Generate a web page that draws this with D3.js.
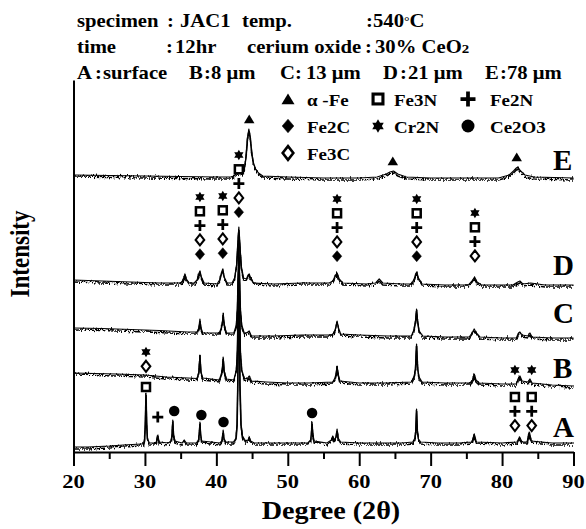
<!DOCTYPE html>
<html>
<head>
<meta charset="utf-8">
<script src="https://cdn.jsdelivr.net/npm/d3@7"></script>
<style>
  html, body { margin: 0; padding: 0; background: #fff; }
  svg { display: block; }
</style>
</head>
<body>
<svg id="chart" width="586" height="529"></svg>
<script>
// X-ray diffraction patterns of JAC1 at five depths (A = surface ... E = 78 µm)

const degreeTicks = [20, 30, 40, 50, 60, 70, 80, 90];
const minorTicks = [25, 35, 45, 55, 65, 75, 85];
const patternNames = ["A", "B", "C", "D", "E"];
// vertical stacking offset of each pattern, in intensity units
const patternOffsets = [8, 72, 119, 168, 275];

// [2θ (deg), intensity above the pattern's own baseline]
const patternA = [
  [20,-3],[22,-3],[25,-2],[27,-1],[29.5,0],
  [29.8,0],[29.95,5],[30.05,20],[30.15,51],[30.25,20],[30.35,6],[30.6,1],
  [31.3,1],[31.6,2],[31.8,9],[32.0,2],
  [33.3,1],[33.65,3],[33.8,10],[33.9,24],[34.0,10],[34.2,3],
  [35.2,1],[35.5,4],[35.8,1],
  [37.2,1],[37.5,4],[37.6,10],[37.7,22],[37.8,10],[37.95,3],
  [40.5,1],[40.75,3],[40.85,7],[40.95,14],[41.05,6],[41.3,2],
  [42.4,2],[42.75,6],[42.9,20],[43.0,60],[43.1,150],[43.15,206],[43.2,150],[43.3,60],[43.45,20],[43.65,8],[44.1,3],
  [44.45,4],[44.6,7],[44.8,3],[45.3,1],
  [47,1],[50,1],[52.8,1],[53.2,4],[53.3,10],[53.4,22],[53.5,10],[53.7,3],
  [55.5,1],[56.1,4],[56.3,8],[56.5,4],[56.75,7],[56.9,15],[57.05,6],[57.4,2],
  [60,1],[63,1],[66,1],[67.5,2],[67.8,6],[67.92,14],[68.03,35],[68.14,14],[68.3,5],[68.6,2],
  [71,1],[74,1],[75.8,2],[76.1,10],[76.4,2],
  [80,1],[82.1,2],[82.45,7],[82.8,2],[83.5,2],[83.8,12],[84.1,3],
  [87,1],[90,1]
];
const patternB = [
  [20,7],[23,6.5],[26,6],[30,5],[33,3],[36,2],
  [37.3,1.5],[37.55,8],[37.7,25],[37.85,8],[38.1,2],
  [40.4,0],[40.7,6],[40.85,12],[40.95,23],[41.1,9],[41.4,1],
  [42.45,0],[42.8,10],[42.95,30],[43.05,75],[43.15,118],[43.25,75],[43.35,30],[43.55,10],[43.95,1],
  [44.4,2],[44.6,4],[44.9,-1],[47,-2],[50,-3],[53,-3],[56.3,-2],
  [56.6,2],[56.75,6],[56.9,14],[57.05,6],[57.3,-1],
  [60,-3],[64,-3],[67.3,-2],[67.7,4],[67.88,12],[68.03,36],[68.18,12],[68.38,3],[68.8,-2],
  [72,-3],[75.5,-3],[75.9,0],[76.1,6],[76.35,0],[76.8,-3],
  [80,-4],[82,-4],[82.3,2],[82.5,4],[82.8,-1],[83.6,-2],[83.9,1],[84.2,-3],
  [87,-5],[90,-6]
];
const patternC = [
  [20,5],[24,4.5],[28,3.5],[32,2.5],[36,1],
  [37.3,1],[37.55,5],[37.7,14],[37.85,5],[38.1,0],
  [40.4,0],[40.7,5],[40.85,11],[40.95,20],[41.1,8],[41.4,0],
  [42.45,0],[42.8,8],[42.95,25],[43.05,55],[43.15,78],[43.25,55],[43.35,25],[43.55,8],[43.95,-1],
  [44.4,1],[44.6,2],[44.9,-3],[48,-3],[52,-2],[56.2,-2],
  [56.5,1],[56.7,5],[56.9,12],[57.1,5],[57.4,-1],
  [60,-2],[64,-3],[67.3,-3],[67.65,3],[67.88,12],[68.03,24],[68.18,12],[68.4,2],[68.9,-3],
  [72,-4],[75.4,-4],[75.8,0],[76.1,4],[76.4,0],[76.9,-4],
  [80,-5],[82,-5],[82.3,0],[82.5,1],[82.8,-2],[83.6,-3],[83.9,0],[84.2,-4],
  [87,-5],[90,-5]
];
const patternD = [
  [20,4],[24,3],[28,2],[32,1],[34.8,1],
  [35.2,2],[35.45,6],[35.6,10],[35.8,5],[36.2,1],
  [36.9,1],[37.3,4],[37.55,10],[37.7,13],[37.9,7],[38.3,1],
  [40.1,0],[40.45,4],[40.7,11],[40.9,15],[41.1,7],[41.5,1],
  [42.2,1],[42.55,6],[42.85,20],[43.0,40],[43.15,57],[43.3,38],[43.5,16],[43.8,6],
  [44.2,5],[44.45,9],[44.6,10],[44.8,6],[45.2,1],
  [48,0],[52,1],[55.8,1],[56.3,3],[56.7,9],[56.9,11],[57.2,5],[57.7,1],
  [61,0],[62.3,1],[62.8,5],[63.3,1],[66,0],
  [67.3,0],[67.7,5],[67.9,10],[68.05,12],[68.3,6],[68.8,0],
  [72,-1],[75.3,-1],[75.8,3],[76.15,7],[76.5,2],[77.1,-1],
  [81.5,-1],[82.2,2],[82.5,3],[82.9,0],[84,1],[86,-1],[90,-1]
];
const patternE = [
  [20,2],[25,1.5],[30,1],[35,0.5],[40,0],[42.2,0],[42.8,3],[43.2,4],[43.6,3],
  [43.9,8],[44.15,20],[44.35,38],[44.55,48],[44.75,40],[44.95,25],[45.2,14],[45.5,8],[45.9,4],[46.5,1],
  [50,0],[55,-1],[60,-1],[62.5,0],[63.8,3],[64.3,5],[64.8,6],[65.4,3],[66.6,0],
  [70,-1],[75,-1],[79.5,-1],[81,2],[81.6,6],[82.0,9],[82.2,10],[82.6,6],[83.2,2],[84.5,0],[90,-1]
];
const patterns = [patternA, patternB, patternC, patternD, patternE];

// phase legend: key, label
const phaseKeys = ["aFe", "Fe3N", "Fe2N", "Fe2C", "Cr2N", "Ce2O3", "Fe3C"];
const phaseLabels = ["α -Fe", "Fe3N", "Fe2N", "Fe2C", "Cr2N", "Ce2O3", "Fe3C"];

// reflection markers: 2θ, intensity level of the top marker, phases from top to bottom
const markerDegrees = [43.15, 37.7, 40.9, 56.9, 68.05, 76.2, 30.15, 30.15, 31.8, 34.1, 37.9, 41.0, 53.4, 81.8, 84.15, 81.8, 84.15, 44.6, 64.7, 82.05];
const markerLevels  = [297, 255, 256, 253, 253, 239, 100, 65, 35, 41, 37, 30, 39, 82, 82, 55, 55, 333, 291, 295];
const markerPhases  = [
  ["Cr2N","Fe3N","Fe2N","Fe3C","Fe2C"],
  ["Cr2N","Fe3N","Fe2N","Fe3C","Fe2C"],
  ["Cr2N","Fe3N","Fe2N","Fe3C","Fe2C"],
  ["Cr2N","Fe3N","Fe2N","Fe3C","Fe2C"],
  ["Cr2N","Fe3N","Fe2N","Fe3C","Fe2C"],
  ["Cr2N","Fe3N","Fe2N","Fe3C"],
  ["Cr2N","Fe3C"],
  ["Fe3N"],
  ["Fe2N"],
  ["Ce2O3"], ["Ce2O3"], ["Ce2O3"], ["Ce2O3"],
  ["Cr2N"], ["Cr2N"],
  ["Fe3N","Fe2N","Fe3C"], ["Fe3N","Fe2N","Fe3C"],
  ["aFe"], ["aFe"], ["aFe"]
];

const svg = d3.select("#chart");
const FONT = "'Liberation Serif', 'Times New Roman', serif";
const SX = 1.15; // the typeface is set slightly wide

const x = d3.scaleLinear().domain([20, 90]).range([73.5, 573.5]);
const y = d3.scaleLinear().domain([0, 372]).range([452, 80]);

// counting-noise texture for the measured traces (vertical jitter only)
const defs = svg.append("defs");
const f = defs.append("filter").attr("id", "counts")
  .attr("filterUnits", "userSpaceOnUse").attr("x", 0).attr("y", 0).attr("width", 586).attr("height", 529);
f.append("feTurbulence").attr("type", "turbulence").attr("baseFrequency", "1.2 0.1")
  .attr("numOctaves", 2).attr("seed", 7).attr("result", "n");
f.append("feColorMatrix").attr("in", "n").attr("type", "matrix")
  .attr("values", "0 0 0 0 0.5  0 1 0 0 0  0 0 1 0 0  0 0 0 0 1").attr("result", "ny");
f.append("feDisplacementMap").attr("in", "SourceGraphic").attr("in2", "ny").attr("scale", 6)
  .attr("xChannelSelector", "R").attr("yChannelSelector", "G");

function label(g, px, py, str, size, anchor, sx) {
  return g.append("text")
    .attr("transform", `translate(${px},${py}) scale(${sx === undefined ? SX : sx},1)`)
    .attr("font-family", FONT).attr("font-weight", "bold")
    .attr("font-size", size).attr("text-anchor", anchor || "start")
    .attr("fill", "#000").text(str);
}

// ---- header ----
const HS = 18;
const head = svg.append("g");
[["specimen", 77], [":", 167], ["JAC1", 180], ["temp.", 242], [":", 366]].forEach(d => label(head, d[1], 27, d[0], HS));
const t540 = label(head, 373, 27, "540", HS);
t540.append("tspan").attr("font-size", 12).attr("dy", -2).text("°");
t540.append("tspan").attr("dy", 2).text("C");
[["time", 77], [":", 166], ["12hr", 175], ["cerium oxide", 247], [":", 365]].forEach(d => label(head, d[1], 53, d[0], HS));
const tCe = label(head, 375, 53, "30% CeO", HS);
tCe.append("tspan").attr("font-size", 13).text("2");
[["A", 77], [":", 95], ["surface", 103], ["B", 189], [":", 204], ["8 μm", 211],
 ["C", 280], [":", 295], ["13 μm", 306], ["D", 383], [":", 400], ["21 μm", 408],
 ["E", 485], [":", 500], ["78 μm", 507]].forEach(d => label(head, d[1], 79, d[0], HS));

// ---- marker glyphs ----
function glyph(g, kind, cx, cy, s) {
  const h = s / 2;
  if (kind === "aFe") {
    g.append("path").attr("d", `M${cx},${cy - h * 0.85}L${cx + h},${cy + h * 0.8}L${cx - h},${cy + h * 0.8}Z`).attr("fill", "#000");
  } else if (kind === "Fe3N") {
    const sw = s * 0.24;
    g.append("rect").attr("x", cx - h + sw / 2).attr("y", cy - h + sw / 2)
      .attr("width", s - sw).attr("height", s - sw)
      .attr("fill", "none").attr("stroke", "#000").attr("stroke-width", sw);
  } else if (kind === "Fe2N") {
    g.append("path").attr("d", `M${cx - h},${cy}H${cx + h}M${cx},${cy - h}V${cy + h}`)
      .attr("stroke", "#000").attr("stroke-width", s * 0.25).attr("fill", "none");
  } else if (kind === "Fe3C" || kind === "Fe2C") {
    const open = kind === "Fe3C";
    const w = open ? h * 0.82 : h * 0.9, v = h * 1.05;
    g.append("path").attr("d", `M${cx},${cy - v}L${cx + w},${cy}L${cx},${cy + v}L${cx - w},${cy}Z`)
      .attr("fill", open ? "#fff" : "#000").attr("stroke", "#000").attr("stroke-width", open ? s * 0.2 : 0.5);
  } else if (kind === "Cr2N") {
    const r = h * 1.02;
    const pt = a => `${cx + r * Math.cos(a * Math.PI / 180)},${cy + r * Math.sin(a * Math.PI / 180)}`;
    g.append("path").attr("d", `M${pt(-90)}L${pt(30)}L${pt(150)}ZM${pt(90)}L${pt(210)}L${pt(330)}Z`).attr("fill", "#000");
  } else if (kind === "Ce2O3") {
    g.append("circle").attr("cx", cx).attr("cy", cy).attr("r", h).attr("fill", "#000");
  }
}

// ---- legend ----
const legend = svg.append("g");
const legCols = [288, 378, 468], legTextGap = [19, 16, 22], legRows = [99, 126, 153];
phaseKeys.forEach((k, i) => {
  const c = i % 3, r = Math.floor(i / 3);
  glyph(legend, k, legCols[c], legRows[r], k === "Fe2N" ? 15 : 13);
  label(legend, legCols[c] + legTextGap[c], legRows[r] + 7, phaseLabels[i], 16.5);
});

// ---- axes ----
const axisG = svg.append("g");
axisG.append("g").attr("transform", `translate(0,${y(0)})`)
  .call(d3.axisBottom(x).tickValues(degreeTicks).tickSize(14).tickSizeOuter(0).tickFormat(""));
const minor = axisG.append("g").attr("transform", `translate(0,${y(0)})`)
  .call(d3.axisBottom(x).tickValues(minorTicks).tickSize(7).tickSizeOuter(0).tickFormat(""));
minor.select(".domain").remove();
axisG.append("g").attr("transform", `translate(${x(20)},0)`)
  .call(d3.axisLeft(y).tickValues([]).tickSizeOuter(0));
axisG.selectAll(".domain").attr("stroke", "#000").attr("stroke-width", 2);
axisG.selectAll(".tick line").attr("stroke", "#000").attr("stroke-width", 2);

degreeTicks.forEach(v => label(axisG, x(v), 488, String(v), 19.5, "middle"));
label(axisG, 331, 519, "Degree (2θ)", 24.5, "middle");
svg.append("text")
  .attr("transform", `translate(29,254) scale(${SX},1) rotate(-90)`)
  .attr("font-family", FONT).attr("font-weight", "bold").attr("font-size", 23)
  .attr("text-anchor", "middle").text("Intensity");

// ---- traces ----
const traces = svg.append("g");
patterns.forEach((pts, i) => {
  const line = d3.line().x(d => x(d[0])).y(d => y(d[1] + patternOffsets[i]));
  traces.append("path").attr("d", line(pts)).attr("fill", "none")
    .attr("stroke", "#000").attr("stroke-width", 1.2).attr("stroke-linejoin", "round");
  traces.append("path").attr("d", line(pts)).attr("fill", "none")
    .attr("stroke", "#000").attr("stroke-width", 1.6).attr("filter", "url(#counts)");
});

// pattern letters at the right
const labelBaselines = [437, 378, 323, 275, 170];
patternNames.forEach((n, i) => label(svg, 553, labelBaselines[i], n, 29, "start", 1));

// ---- reflection markers ----
const marks = svg.append("g");
markerDegrees.forEach((deg, i) => {
  markerPhases[i].forEach((k, j) => {
    glyph(marks, k, x(deg), y(markerLevels[i]) + j * 14.3, k === "Fe2N" ? 11 : 10.5);
  });
});
</script>
</body>
</html>
